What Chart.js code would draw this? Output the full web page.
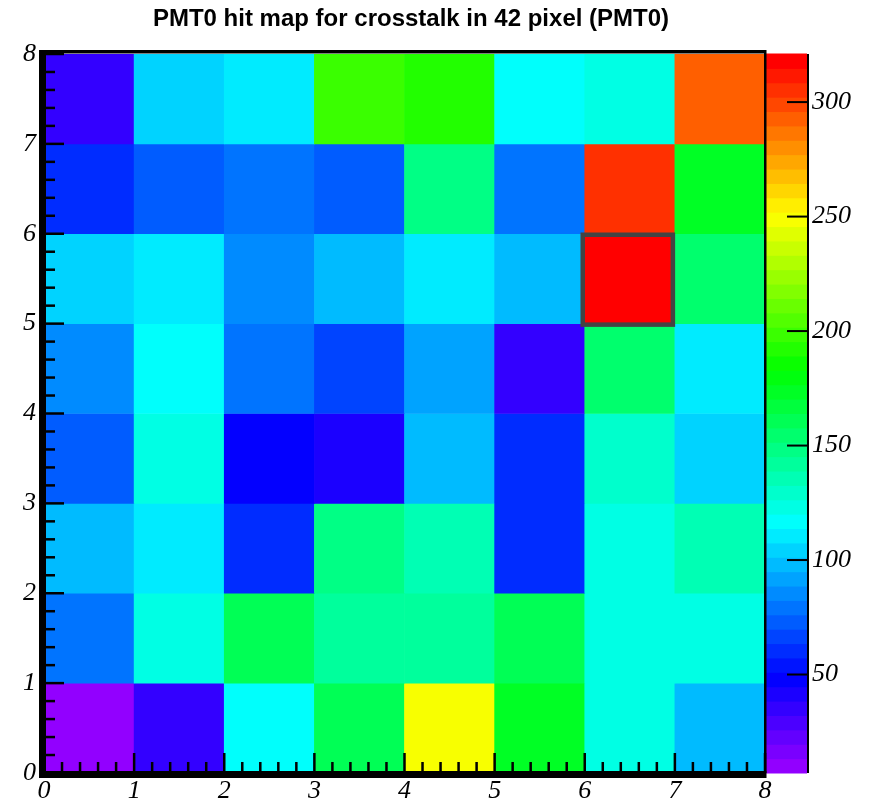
<!DOCTYPE html>
<html lang="en">
  <head>
    <meta charset="UTF-8" />
    <script src="https://cdn.jsdelivr.net/npm/chart.js@4.4.0/dist/chart.umd.min.js"></script>
    <title>PMT0 hit map</title>
    <style>
      body {
        margin: 0;
        padding: 0;
        background: #fff;
      }

      .container {
        width: 875px;
        height: 801px;
      }
    </style>
  </head>
  <body>
    <div class="container">
      <canvas id="hitmap"></canvas>
    </div>
    <script>
      // hits per pixel, one array per y bin (bottom row first), x bins 0..7
      const row0 = [7, 35, 116, 162, 248, 171, 126, 95]
      const row1 = [80, 125, 158, 139, 139, 158, 125, 125]
      const row2 = [96, 109, 60, 150, 136, 62, 125, 133]
      const row3 = [71, 125, 49, 42, 96, 58, 131, 103]
      const row4 = [84, 116, 78, 67, 90, 35, 157, 109]
      const row5 = [105, 109, 85, 98, 112, 98, 321, 157]
      const row6 = [58, 70, 78, 70, 150, 78, 304, 174]
      const row7 = [35, 103, 112, 197, 192, 116, 125, 291]
      const rows = [row0, row1, row2, row3, row4, row5, row6, row7]

      const title = 'PMT0 hit map for crosstalk in 42 pixel (PMT0)'
      const zMin = 7
      const zMax = 321
      const zTicks = [50, 100, 150, 200, 250, 300]
      const nLevels = 50
      const selected = { x: 6, y: 5 }

      // ROOT "pretty" palette: hue 280 -> 0 over 50 levels
      const levelColor = (i) => 'hsl(' + (280 - (i + 1) * 5.6) + ', 100%, 50%)'
      const colorFor = (v) => {
        let i = Math.floor(((v - zMin) / (zMax - zMin)) * nLevels)
        i = Math.max(0, Math.min(nLevels - 1, i))
        return levelColor(i)
      }

      const cells = []
      rows.forEach((row, j) => {
        row.forEach((v, i) => {
          cells.push({ x: i + 0.5, y: [j, j + 1], v: v })
        })
      })

      const serif = { family: 'Liberation Serif', style: 'italic', size: 26 }

      // keep tick labels from pushing the plot area around
      const fixSize = (w, h) => (s) => {
        if (w !== null) s.width = w
        if (h !== null) s.height = h
        s.paddingTop = 0
        s.paddingBottom = 0
        s.paddingLeft = 0
        s.paddingRight = 0
      }

      const decorations = {
        id: 'decorations',
        afterDatasetsDraw(chart) {
          const { ctx } = chart
          const { x, y, z } = chart.scales
          const L = x.getPixelForValue(0)
          const R = x.getPixelForValue(8)
          const T = y.getPixelForValue(8)
          const B = y.getPixelForValue(0)
          ctx.save()

          // colour bar
          const barL = R + 1
          const barR = R + 42
          for (let i = 0; i < nLevels; i++) {
            const v0 = zMin + (i * (zMax - zMin)) / nLevels
            const v1 = zMin + ((i + 1) * (zMax - zMin)) / nLevels
            const y0 = z.getPixelForValue(v0)
            const y1 = z.getPixelForValue(v1)
            ctx.fillStyle = levelColor(i)
            ctx.fillRect(barL, y1 - 0.5, barR - barL, y0 - y1 + 1)
          }
          ctx.fillStyle = '#000'
          ctx.fillRect(barR, T, 2, B - T)
          zTicks.forEach((v) => {
            ctx.fillRect(barR - 20, z.getPixelForValue(v) - 1, 20, 2)
          })

          // selected pixel
          const sx0 = x.getPixelForValue(selected.x)
          const sx1 = x.getPixelForValue(selected.x + 1)
          const sy0 = y.getPixelForValue(selected.y + 1)
          const sy1 = y.getPixelForValue(selected.y)
          ctx.strokeStyle = '#444'
          ctx.lineWidth = 4.5
          ctx.strokeRect(sx0 - 2, sy0 + 1, sx1 - sx0, sy1 - sy0)

          // frame
          ctx.fillStyle = '#000'
          ctx.fillRect(L - 5, T - 4, R - L + 6, 3.5)
          ctx.fillRect(R - 1, T - 4, 2.5, B - T + 4)
          ctx.fillRect(L - 5, T - 4, 7, B - T + 9)
          ctx.fillRect(L - 5, B - 2, R - L + 6.5, 7)

          // inward ticks, 4 minor per division
          for (let k = 0; k <= 40; k++) {
            const v = k / 5
            const len = k % 5 ? 9 : 18
            ctx.fillRect(x.getPixelForValue(v) - 1.25, B - 2 - len, 2.5, len)
            ctx.fillRect(L + 2, y.getPixelForValue(v) - 1.25, len, 2.5)
          }

          // title
          ctx.font = 'bold 24px "Liberation Sans"'
          ctx.textAlign = 'center'
          ctx.textBaseline = 'middle'
          ctx.fillText(title, 411, 19)
          ctx.restore()
        },
      }

      const chart = new Chart(document.getElementById('hitmap'), {
        type: 'bar',
        data: {
          datasets: [
            {
              data: cells,
              backgroundColor: (c) => colorFor(c.raw.v),
              borderWidth: 0,
              barPercentage: 1,
              categoryPercentage: 1,
            },
          ],
        },
        options: {
          animation: false,
          responsive: true,
          maintainAspectRatio: false,
          layout: {
            padding: { left: 0, right: 0, top: 54, bottom: 0 },
          },
          plugins: {
            legend: { display: false },
            tooltip: { enabled: false },
            title: { display: false },
          },
          scales: {
            x: {
              type: 'linear',
              min: 0,
              max: 8,
              offset: false,
              grid: { display: false, drawTicks: false },
              border: { display: false },
              ticks: { stepSize: 1, color: '#000', font: serif, padding: 3 },
              afterFit: fixSize(null, 28),
            },
            y: {
              type: 'linear',
              min: 0,
              max: 8,
              grid: { display: false, drawTicks: false },
              border: { display: false },
              ticks: { stepSize: 1, color: '#000', font: serif, padding: 8 },
              afterFit: fixSize(44, null),
            },
            z: {
              type: 'linear',
              position: 'right',
              min: zMin,
              max: zMax,
              grid: { display: false, drawTicks: false },
              border: { display: false },
              ticks: { color: '#000', font: serif, padding: 47 },
              afterBuildTicks: (s) => {
                s.ticks = zTicks.map((v) => ({ value: v }))
              },
              afterFit: fixSize(110, null),
            },
          },
        },
        plugins: [decorations],
      })
    </script>
  </body>
</html>
